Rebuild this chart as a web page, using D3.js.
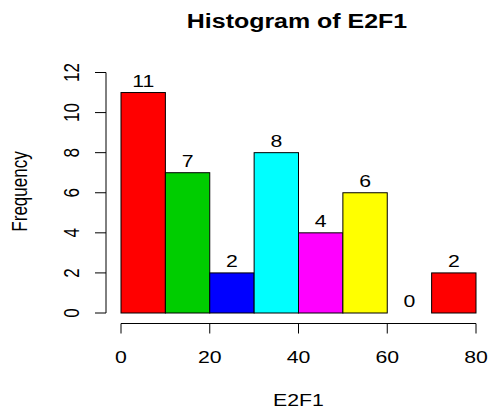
<!DOCTYPE html>
<html>
<head>
<meta charset="utf-8">
<script src="https://cdn.jsdelivr.net/npm/d3@7"></script>
<style>
  body { margin: 0; background: #fff; }
  text { font-family: "Liberation Sans", Arial, sans-serif; fill: #000; }
</style>
</head>
<body>
<script>
// histogram of E2F1
var breaks = [0, 10, 20, 30, 40, 50, 60, 70, 80];
var counts = [11, 7, 2, 8, 4, 6, 0, 2];
var colors = ["#FF0000", "#00CD00", "#0000FF", "#00FFFF", "#FF00FF", "#FFFF00", "#BEBEBE", "#FF0000"];
var xTicks = [0, 20, 40, 60, 80];
var yTicks = [0, 2, 4, 6, 8, 10, 12];

var width = 488;
var height = 410;
var sx = 1.25; // picture is stretched sideways

var svg = d3.select("body").append("svg")
    .attr("width", width)
    .attr("height", height);

svg.append("rect")
    .attr("width", width)
    .attr("height", height)
    .attr("fill", "#fff");

var x = d3.scaleLinear().domain([0, 80]).range([121, 476]);
var y = d3.scaleLinear().domain([0, 12]).range([313, 72.5]);

var bins = counts.map(function(c, i) {
  return {x0: breaks[i], x1: breaks[i + 1], n: c, col: colors[i]};
});

svg.selectAll("rect.bar")
  .data(bins)
  .enter().append("rect")
    .attr("class", "bar")
    .attr("x", function(d) { return x(d.x0); })
    .attr("y", function(d) { return y(d.n); })
    .attr("width", function(d) { return x(d.x1) - x(d.x0); })
    .attr("height", function(d) { return y(0) - y(d.n); })
    .attr("fill", function(d) { return d.n > 0 ? d.col : "none"; })
    .attr("stroke", "#000")
    .attr("stroke-width", 1);

// count labels
svg.selectAll("text.lab")
  .data(bins)
  .enter().append("text")
    .attr("class", "lab")
    .attr("text-anchor", "middle")
    .attr("font-size", 17)
    .attr("transform", function(d) {
      return "translate(" + x((d.x0 + d.x1) / 2) + "," + (y(d.n) - 6) + ") scale(" + sx + ",1)";
    })
    .text(function(d) { return d.n; });

// x axis
var xa = svg.append("g");
xa.append("line")
    .attr("x1", x(0)).attr("x2", x(80))
    .attr("y1", 323.5).attr("y2", 323.5)
    .attr("stroke", "#000");
xa.selectAll("line.t").data(xTicks).enter().append("line")
    .attr("class", "t")
    .attr("x1", function(d) { return x(d); }).attr("x2", function(d) { return x(d); })
    .attr("y1", 323.5).attr("y2", 333.5)
    .attr("stroke", "#000");
xa.selectAll("text").data(xTicks).enter().append("text")
    .attr("text-anchor", "middle")
    .attr("font-size", 17)
    .attr("transform", function(d) { return "translate(" + x(d) + ",363) scale(" + sx + ",1)"; })
    .text(function(d) { return d; });

// y axis
var ya = svg.append("g");
ya.append("line")
    .attr("x1", 106).attr("x2", 106)
    .attr("y1", y(12)).attr("y2", y(0))
    .attr("stroke", "#000");
ya.selectAll("line.t").data(yTicks).enter().append("line")
    .attr("class", "t")
    .attr("x1", 95).attr("x2", 106)
    .attr("y1", function(d) { return y(d); }).attr("y2", function(d) { return y(d); })
    .attr("stroke", "#000");
ya.selectAll("text").data(yTicks).enter().append("text")
    .attr("text-anchor", "middle")
    .attr("font-size", 17)
    .attr("transform", function(d) { return "translate(78.5," + y(d) + ") scale(" + sx + ",1) rotate(-90)"; })
    .text(function(d) { return d; });

// titles
svg.append("text")
    .attr("text-anchor", "middle")
    .attr("font-size", 19.5)
    .attr("font-weight", "bold")
    .attr("transform", "translate(297,27.5) scale(1.28,1)")
    .text("Histogram of E2F1");

svg.append("text")
    .attr("text-anchor", "middle")
    .attr("font-size", 17)
    .attr("transform", "translate(298.5,405.5) scale(" + sx + ",1)")
    .text("E2F1");

svg.append("text")
    .attr("text-anchor", "middle")
    .attr("font-size", 17)
    .attr("transform", "translate(26.5,191.5) scale(" + sx + ",1) rotate(-90)")
    .text("Frequency");
</script>
</body>
</html>
